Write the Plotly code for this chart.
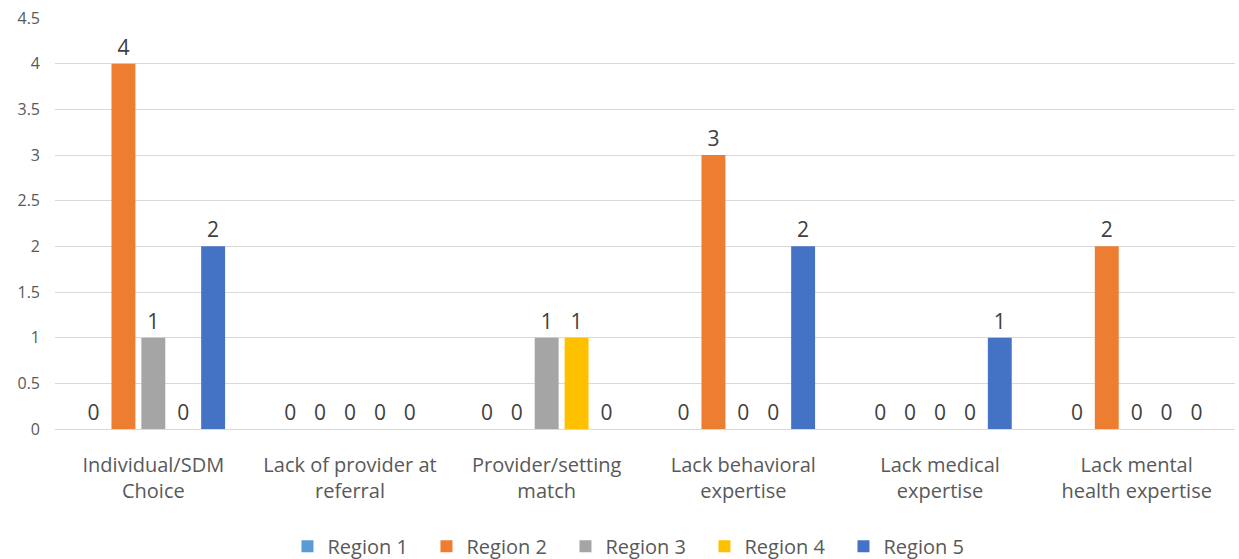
import plotly.graph_objects as go

categories = ["Individual/SDM<br>Choice", "Lack of provider at<br>referral", "Provider/setting<br>match",
              "Lack behavioral<br>expertise", "Lack medical<br>expertise", "Lack mental<br>health expertise"]
series_names = ["Region 1", "Region 2", "Region 3", "Region 4", "Region 5"]
region1 = [0, 0, 0, 0, 0, 0]
region2 = [4, 0, 0, 3, 0, 2]
region3 = [1, 0, 1, 0, 0, 0]
region4 = [0, 0, 1, 0, 0, 0]
region5 = [2, 0, 0, 2, 1, 0]
colors = ["#5B9BD5", "#ED7D31", "#A5A5A5", "#FFC000", "#4472C4"]

FONT = "Open Sans"

fig = go.Figure()
for name, vals, c in zip(series_names, [region1, region2, region3, region4, region5], colors):
    fig.add_trace(go.Bar(
        x=categories, y=vals, name=name, marker_color=c, marker_line_width=0,
        text=[str(v) for v in vals], textposition="outside", cliponaxis=False,
        textfont=dict(size=21, color="#404040", family=FONT),
    ))

fig.update_layout(
    width=1239, height=559,
    margin=dict(l=55, r=4, t=18, b=130, autoexpand=False),
    paper_bgcolor="white", plot_bgcolor="white",
    barmode="group", bargap=0.24, bargroupgap=0.2,
    font=dict(family=FONT, color="#595959"),
    showlegend=True,
    legend=dict(orientation="h", x=0.4915, xanchor="center", y=-0.285, yanchor="middle",
                font=dict(size=20, color="#595959", family=FONT), itemwidth=30,
                entrywidth=94, entrywidthmode="pixels", traceorder="normal"),
    xaxis=dict(showgrid=False, showline=False, tickfont=dict(size=20, color="#595959", family=FONT),
               ticks="", ticklabelstandoff=22, automargin=False),
    yaxis=dict(range=[0, 4.5001], dtick=0.5, showgrid=True, gridcolor="#D9D9D9", gridwidth=1,
               zeroline=True, zerolinecolor="#D9D9D9", zerolinewidth=1, automargin=False,
               tickfont=dict(size=16, color="#595959", family=FONT), ticks="", ticklabelstandoff=14),
)

fig.write_html(
    "out.html",
    config={"displayModeBar": False},
    post_script="document.documentElement.style.margin='0';document.documentElement.style.overflow='hidden';"
                "document.body.style.margin='0';document.body.style.overflow='hidden';",
)
